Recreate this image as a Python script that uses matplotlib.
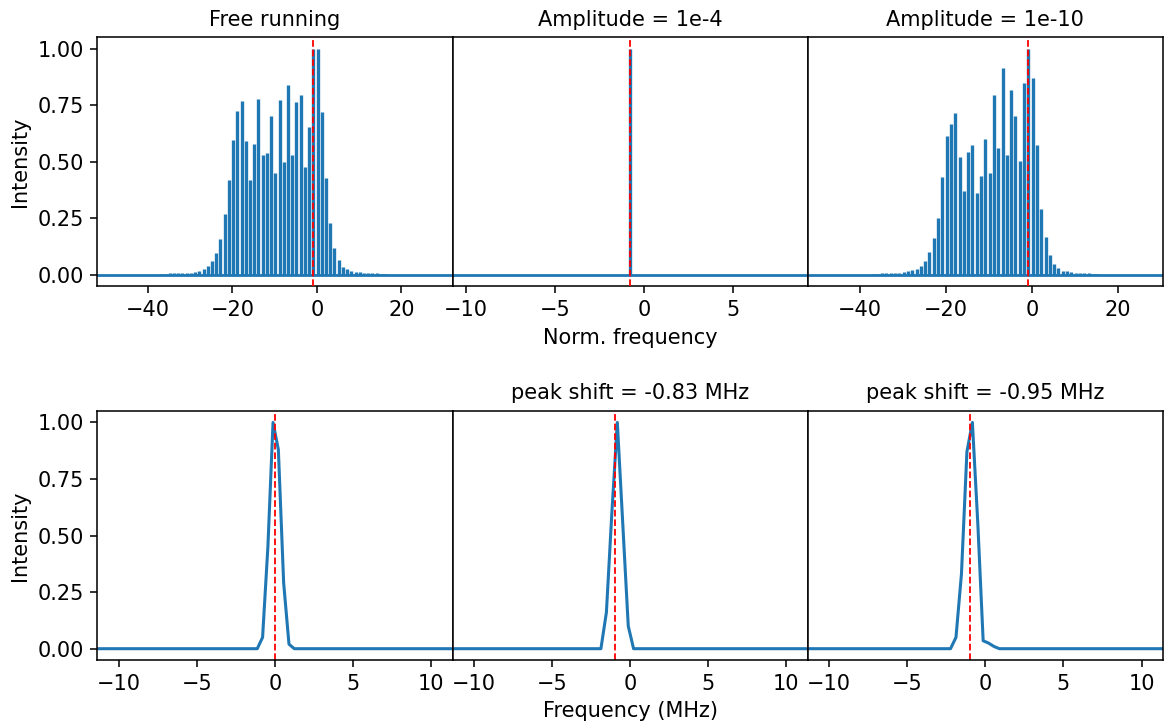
import matplotlib
matplotlib.use('Agg')
import matplotlib.pyplot as plt
import numpy as np

plt.rcParams['font.size'] = 15
plt.rcParams['axes.titlesize'] = 15
plt.rcParams['axes.labelsize'] = 15
plt.rcParams['lines.linewidth'] = 2.1
plt.rcParams['axes.linewidth'] = 1.12
for ax_name in ['xtick', 'ytick']:
    plt.rcParams[ax_name + '.major.size'] = 4.9
    plt.rcParams[ax_name + '.major.width'] = 1.12
    plt.rcParams[ax_name + '.major.pad'] = 4.9
    plt.rcParams[ax_name + '.labelsize'] = 15
plt.rcParams['axes.titlepad'] = 8.4
plt.rcParams['axes.labelpad'] = 5.6

titulos_cima = ['Free running', 'Amplitude = 1e-4', 'Amplitude = 1e-10']
titulos_baixo = ['', 'peak shift = -0.83 MHz', 'peak shift = -0.95 MHz']

# modos relativos ao pico (indice -36 .. 17)
ordens_livre = np.arange(-36, 18)
pico_livre = -0.85
int_livre = [0.006, 0.006, 0.007, 0.007, 0.008, 0.008, 0.009, 0.01, 0.012, 0.017,
             0.025, 0.04, 0.06, 0.095, 0.16, 0.27, 0.42, 0.595, 0.725, 0.768,
             0.59, 0.42, 0.58, 0.778, 0.532, 0.538, 0.703, 0.45, 0.772, 0.5,
             0.838, 0.529, 0.765, 0.794, 0.478, 0.654, 1.0, 0.997, 0.722, 0.43,
             0.23, 0.12, 0.065, 0.037, 0.025, 0.018, 0.014, 0.012, 0.01, 0.009,
             0.008, 0.007, 0.006, 0.006]

pico_1e4 = -0.77
int_1e4 = [1.0]

ordens_1e10 = np.arange(-36, 17)
pico_1e10 = -0.8
int_1e10 = [0.006, 0.006, 0.007, 0.007, 0.008, 0.008, 0.009, 0.011, 0.015, 0.02,
            0.026, 0.038, 0.06, 0.099, 0.165, 0.253, 0.432, 0.616, 0.668, 0.716,
            0.522, 0.371, 0.541, 0.574, 0.363, 0.438, 0.6, 0.449, 0.796, 0.559,
            0.916, 0.528, 0.819, 0.704, 0.503, 0.85, 1.0, 0.87, 0.576, 0.291,
            0.166, 0.087, 0.046, 0.029, 0.019, 0.015, 0.012, 0.01, 0.009, 0.008,
            0.007, 0.006, 0.006]

freq_livre_mhz = [-11.5, -1.13, -0.79, -0.45, -0.12, 0.22, 0.56, 0.9, 1.24, 11.5]
int_livre_mhz = [0, 0, 0.05, 0.45, 1.0, 0.88, 0.29, 0.02, 0, 0]
freq_1e4_mhz = [-11.5, -1.87, -1.52, -1.17, -0.82, -0.47, -0.12, 0.22, 11.5]
int_1e4_mhz = [0, 0, 0.16, 0.6, 1.0, 0.55, 0.1, 0, 0]
freq_1e10_mhz = [-11.5, -2.23, -1.88, -1.53, -1.18, -0.83, -0.48, -0.14, 0.2, 0.55, 0.9, 11.5]
int_1e10_mhz = [0, 0, 0.05, 0.33, 0.87, 1.0, 0.55, 0.035, 0.025, 0.01, 0, 0]
linhas_mhz = [0.0, -1.0, -1.0]

xlims_cima = [(-52.0, 32.1), (-10.77, 9.23), (-52.1, 30.5)]
xlim_baixo = (-11.37, 11.37)


def espectro(ax, freqs, ints, pico, xlim, title):
    ax.axhline(0, color='C0', lw=2.0, zorder=2)
    ax.vlines(freqs, 0, ints, color='C0', lw=2.4, zorder=2)
    ax.axvline(pico, color='r', ls='--', lw=1.3, zorder=3)
    ax.set_xlim(xlim)
    ax.set_title(title)


def pico_mhz(ax, f, y, linha, title):
    ax.plot(f, y, color='C0', lw=2.2)
    ax.axvline(linha, color='r', ls='--', lw=1.3)
    ax.set_xlim(xlim_baixo)
    if title:
        ax.set_title(title)


fig, axs = plt.subplots(2, 3, figsize=(11.64, 7.26), dpi=100)
fig.subplots_adjust(left=0.0836, right=0.9991, top=0.9486, bottom=0.0909,
                    wspace=0, hspace=0.502)

espectro(axs[0, 0], pico_livre + ordens_livre, int_livre, pico_livre, xlims_cima[0], titulos_cima[0])
espectro(axs[0, 1], [pico_1e4], int_1e4, pico_1e4, xlims_cima[1], titulos_cima[1])
espectro(axs[0, 2], pico_1e10 + ordens_1e10, int_1e10, pico_1e10, xlims_cima[2], titulos_cima[2])

pico_mhz(axs[1, 0], freq_livre_mhz, int_livre_mhz, linhas_mhz[0], titulos_baixo[0])
pico_mhz(axs[1, 1], freq_1e4_mhz, int_1e4_mhz, linhas_mhz[1], titulos_baixo[1])
pico_mhz(axs[1, 2], freq_1e10_mhz, int_1e10_mhz, linhas_mhz[2], titulos_baixo[2])

for ax in axs.flat:
    ax.set_ylim(-0.05, 1.05)
    ax.set_yticks([0, 0.25, 0.5, 0.75, 1.0])
for ax in axs[:, 1:].flat:
    ax.tick_params(left=False, labelleft=False)
for ax in axs[:, 0]:
    ax.set_ylabel('Intensity')
    ax.set_yticklabels(['0.00', '0.25', '0.50', '0.75', '1.00'])

axs[0, 1].set_xlabel('Norm. frequency')
axs[1, 1].set_xlabel('Frequency (MHz)')

fig.savefig('out.png', dpi=100)
